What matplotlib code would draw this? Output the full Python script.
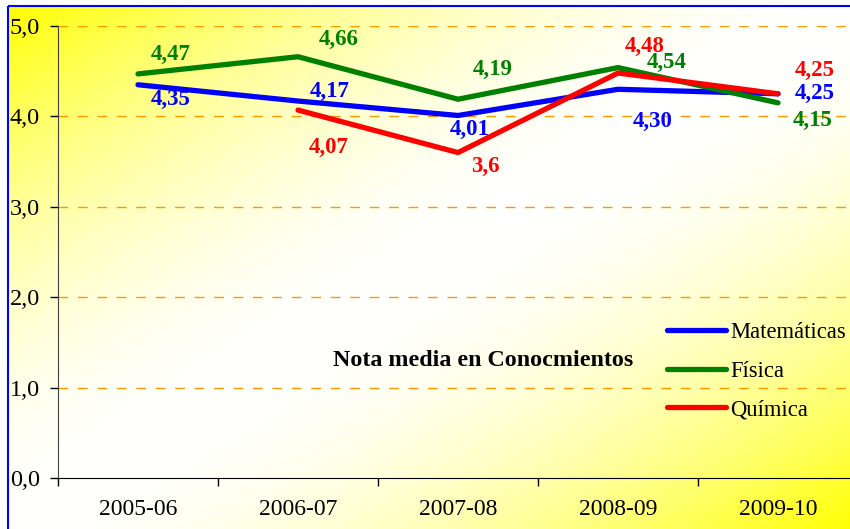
import numpy as np
import matplotlib
matplotlib.use("Agg")
import matplotlib.pyplot as plt
from matplotlib.patches import Rectangle
from matplotlib.ticker import FuncFormatter

plt.rcParams['font.family'] = ['Liberation Serif', 'DejaVu Serif']

# ---- data ----
cursos = ["2005-06", "2006-07", "2007-08", "2008-09", "2009-10"]
matematicas = [4.35, 4.17, 4.01, 4.30, 4.25]
fisica = [4.47, 4.66, 4.19, 4.54, 4.15]
quimica = [np.nan, 4.07, 3.6, 4.48, 4.25]
etiquetas_quimica = ["", "4,07", "3,6", "4,48", "4,25"]

series = [
    ("Matemáticas", matematicas, "#0000FF"),
    ("Física", fisica, "#008000"),
    ("Química", quimica, "#FF0000"),
]

# label offsets (pixels, x right / y up) for each series point
offsets = {
    "Matemáticas": [(33, -15), (32, 10), (12, -14), (35, -32), (37, 0)],
    "Física": [(33, 19), (41, 17), (35, 30), (49, 5), (35, -18)],
    "Química": [None, (31, -37), (27, -14), (27, 27), (37, 23)],
}

W, H = 850, 529
DPI = 100
fig = plt.figure(figsize=(W / DPI, H / DPI), dpi=DPI)

# ---- background: diagonal yellow-white-yellow gradient inside a blue frame ----
bg = fig.add_axes([0, 0, 1, 1], zorder=-10)
bg.set_axis_off()
fx0, fy0 = 8, 6
yy, xx = np.mgrid[0:H, 0:W].astype(float)
t = ((xx - fx0) / (W - fx0) + (yy - fy0) / (H - fy0)) / 2.0
d = np.clip(np.abs(2 * t - 1), 0, 1)
img = np.ones((H, W, 3))
img[..., 2] = 1 - d ** 1.8
outside = (xx < fx0) | (yy < fy0)
img[outside] = 1.0
bg.imshow(img, extent=[0, W, H, 0], aspect='auto', interpolation='bilinear')
bg.set_xlim(0, W)
bg.set_ylim(H, 0)
bg.add_patch(Rectangle((fx0, fy0), W + 20, H + 20, fill=False,
                       edgecolor="#0000FF", linewidth=1.5))

# ---- main axes ----
ax = fig.add_axes([58 / W, 51 / H, 800 / W, 452 / H])
ax.set_facecolor('none')
x = np.arange(len(cursos))

for nombre, valores, color in series:
    ax.plot(x, valores, color=color, linewidth=3.8, solid_capstyle='round',
            solid_joinstyle='round', label=nombre, zorder=3)

for nombre, valores, color in series:
    for i, v in enumerate(valores):
        off = offsets[nombre][i]
        if off is None or np.isnan(v):
            continue
        if nombre == "Química":
            txt = etiquetas_quimica[i]
        else:
            txt = f"{v:.2f}".replace(".", ",")
        ax.annotate(txt, (x[i], v), xytext=off, textcoords='offset pixels',
                    ha='center', va='center', color=color, fontsize=16.5,
                    fontweight='bold', zorder=4)

ax.set_xlim(-0.5, len(cursos) - 0.5)
ax.set_ylim(0, 5)
ax.set_yticks(np.arange(0, 6, 1))
ax.yaxis.set_major_formatter(FuncFormatter(lambda v, p: f"{v:.1f}".replace(".", ",")))
ax.set_xticks(x)
ax.set_xticklabels(cursos)
ax.set_xticks(np.arange(-0.5, len(cursos), 1), minor=True)
ax.tick_params(axis='x', which='major', length=0, pad=15, labelsize=17)
ax.tick_params(axis='x', which='minor', length=6, width=1, direction='out')
ax.tick_params(axis='y', length=6, width=1, direction='out', pad=7, labelsize=17.5)

for yv in range(1, 6):
    ax.axhline(yv, color="#FF9900", linewidth=1, linestyle=(0, (7, 7)), zorder=1)

for s in ["top", "right"]:
    ax.spines[s].set_visible(False)
ax.spines["left"].set_color("#404040")
ax.spines["bottom"].set_color("black")

ax.text(483, H - 361, "Nota media en Conocmientos", transform=None,
        ha='center', va='center', fontsize=17.3, fontweight='bold', color='black')

fig.legend(loc='upper left', bbox_to_anchor=(667 / W, 1 - 322 / H),
           bbox_transform=fig.transFigure, frameon=False, fontsize=16.3,
           borderpad=0, borderaxespad=0, handlelength=2.6, handletextpad=0.2,
           labelspacing=0.78)

fig.savefig("out.png", dpi=DPI)
